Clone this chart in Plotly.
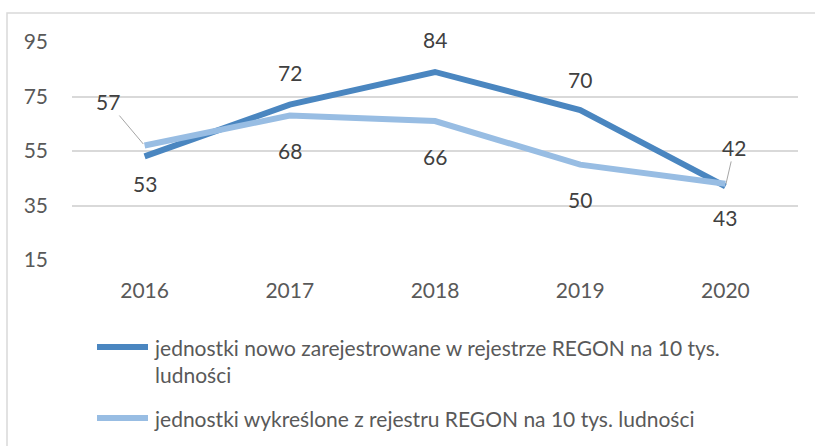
import plotly.graph_objects as go

years = ["2016", "2017", "2018", "2019", "2020"]
registered = [53, 72, 84, 70, 42]
deleted = [57, 68, 66, 50, 43]
name_registered = "jednostki nowo zarejestrowane w rejestrze REGON na 10 tys.<br>ludności"
name_deleted = "jednostki wykreślone z rejestru REGON na 10 tys. ludności"
y_ticks = [15, 35, 55, 75, 95]

W, H = 815, 446
L, R, T, B = 72, 17, 42, 186
PW, PH = W - L - R, H - T - B

def px(x):
    return (x - L) / PW

def py(y):
    return 1 - (y - T) / PH

DARK = "#4a86c0"
LIGHT = "#98bde3"
FONT = "Lato"
LBL = "#404040"
TXT = "#595959"

fig = go.Figure()
fig.add_trace(go.Scatter(x=years, y=registered, mode="lines",
                         line=dict(color=DARK, width=6), name="reg", showlegend=False,
                         hoverinfo="skip"))
fig.add_trace(go.Scatter(x=years, y=deleted, mode="lines",
                         line=dict(color=LIGHT, width=6), name="del", showlegend=False,
                         hoverinfo="skip"))

ann = []
reg_shift = [-27, 32, 32, 31, None]
for i, v in enumerate(registered):
    if reg_shift[i] is None:
        ann.append(dict(x=i, y=v, text=str(v), showarrow=True, arrowhead=0,
                        arrowwidth=1, arrowcolor="#a6a6a6", ax=9, ay=-39,
                        standoff=3, font=dict(family=FONT, size=21, color=LBL)))
    else:
        ann.append(dict(x=i, y=v, text=str(v), showarrow=False, yshift=reg_shift[i],
                        font=dict(family=FONT, size=21, color=LBL)))
del_shift = [None, -35, -35, -35, -34]
for i, v in enumerate(deleted):
    if del_shift[i] is None:
        ann.append(dict(x=i, y=v, text=str(v), showarrow=True, arrowhead=0,
                        arrowwidth=1, arrowcolor="#a6a6a6", ax=-37, ay=-44,
                        standoff=2, font=dict(family=FONT, size=21, color=LBL)))
    else:
        ann.append(dict(x=i, y=v, text=str(v), showarrow=False, yshift=del_shift[i],
                        font=dict(family=FONT, size=21, color=LBL)))

# custom legend
ann.append(dict(xref="paper", yref="paper", x=px(152), y=py(333), xanchor="left",
                yanchor="top", align="left", showarrow=False, text=name_registered,
                font=dict(family=FONT, size=21, color=TXT)))
ann.append(dict(xref="paper", yref="paper", x=px(152), y=py(404), xanchor="left",
                yanchor="top", align="left", showarrow=False, text=name_deleted,
                font=dict(family=FONT, size=21, color=TXT)))

shapes = [
    dict(type="rect", xref="paper", yref="paper", x0=px(7), x1=px(830), y0=py(460), y1=py(13),
         line=dict(color="#d9d9d9", width=1.5), fillcolor="rgba(0,0,0,0)", layer="below"),
    dict(type="line", xref="paper", yref="paper", x0=px(97), x1=px(148), y0=py(347), y1=py(347),
         line=dict(color=DARK, width=6)),
    dict(type="line", xref="paper", yref="paper", x0=px(97), x1=px(148), y0=py(418), y1=py(418),
         line=dict(color=LIGHT, width=6)),
]

fig.update_layout(
    template="none",
    width=W, height=H,
    margin=dict(l=L, r=R, t=T, b=B, autoexpand=False),
    paper_bgcolor="white", plot_bgcolor="white",
    annotations=ann, shapes=shapes,
    xaxis=dict(type="category", range=[-0.5, 4.5], showgrid=False, zeroline=False,
               showline=False, ticks="", automargin=False,
               tickfont=dict(family=FONT, size=21, color=TXT), ticklabelstandoff=16),
    yaxis=dict(range=[15, 95], tickvals=y_ticks, showgrid=True, gridcolor="#d9d9d9",
               gridwidth=1.5, zeroline=False, showline=False, ticks="", automargin=False,
               tickfont=dict(family=FONT, size=21, color=TXT), ticklabelstandoff=23),
    showlegend=False,
)

fig.write_html("out.html", config={"displayModeBar": False},
               post_script="document.body.style.margin='0';document.body.style.padding='0';")
